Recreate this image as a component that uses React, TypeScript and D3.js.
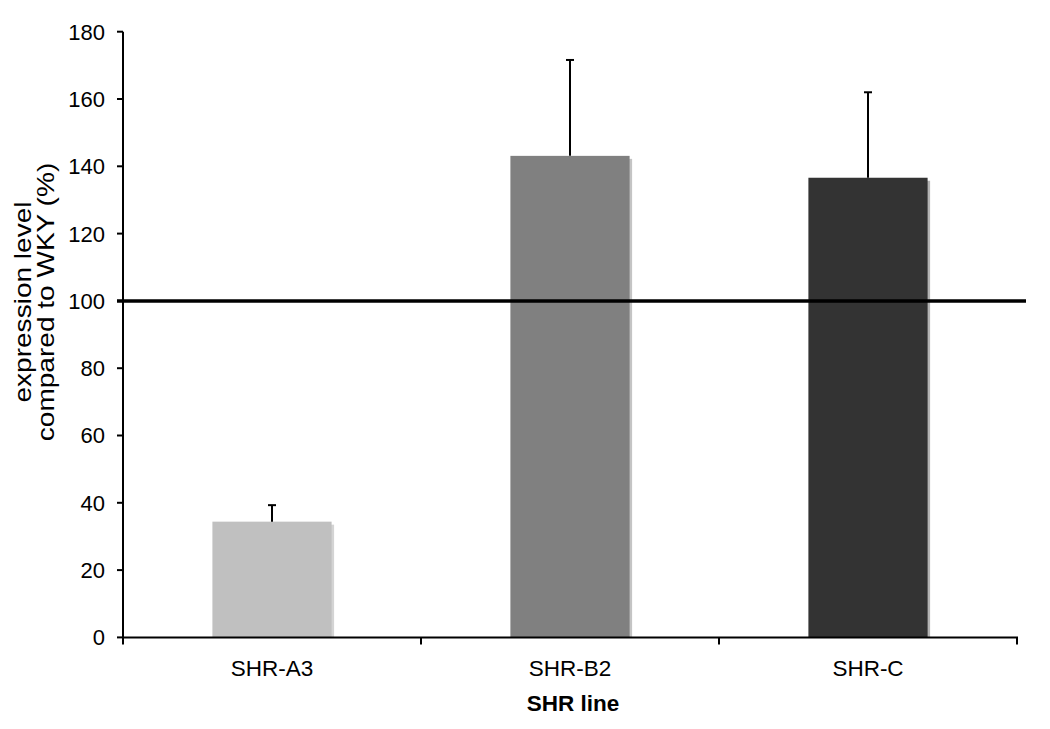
import React from "react";
import * as d3 from "d3";

const categories = ["SHR-A3", "SHR-B2", "SHR-C"];
const values = [34.4, 143.1, 136.6];
const errors = [4.9, 28.5, 25.4];
const barColors = ["#c0c0c0", "#808080", "#333333"];
const shadowColors = ["#d4d4d4", "#c4c4c4", "#b4b4b4"];
const yTicks = [0, 20, 40, 60, 80, 100, 120, 140, 160, 180];
const referenceValue = 100;
const yLabelLines = ["expression level", "compared to WKY (%)"];
const xTitle = "SHR line";

const W = 1050;
const H = 729;
const left = 123;
const right = 1017;
const top = 31.7;
const bottom = 637.4;

export default function App() {
  const y = d3.scaleLinear().domain([0, 180]).range([bottom, top]);
  const x = d3
    .scaleBand<string>()
    .domain(categories)
    .range([left, right])
    .paddingInner(0.6)
    .paddingOuter(0.3);
  const step = x.step();
  const font = "Arial, 'Liberation Sans', sans-serif";
  const boundaries = d3.range(categories.length + 1).map((i) => left + i * step);

  return (
    <svg
      width={W}
      height={H}
      style={{ position: "absolute", left: 0, top: 0, background: "#fff" }}
      fontFamily={font}
    >
      {categories.map((c, i) => {
        const bx = x(c)!;
        const bw = x.bandwidth();
        const by = y(values[i]);
        return (
          <g key={c}>
            <rect x={bx + 2.5} y={by + 3} width={bw} height={bottom - by - 3} fill={shadowColors[i]} />
            <rect x={bx} y={by} width={bw} height={bottom - by} fill={barColors[i]} />
          </g>
        );
      })}
      {categories.map((c, i) => {
        const cx = x(c)! + x.bandwidth() / 2;
        const y0 = y(values[i]);
        const y1 = y(values[i] + errors[i]);
        return (
          <g key={"e" + c} stroke="#000" strokeWidth={2}>
            <line x1={cx} x2={cx} y1={y0} y2={y1} />
            <line x1={cx - 4} x2={cx + 4} y1={y1} y2={y1} />
          </g>
        );
      })}
      <line x1={left} x2={left} y1={top} y2={bottom} stroke="#000" strokeWidth={2} />
      {yTicks.map((t) => (
        <g key={t}>
          <line x1={left - 6} x2={left} y1={y(t)} y2={y(t)} stroke="#000" strokeWidth={2} />
          <text x={105} y={y(t)} dy="0.36em" textAnchor="end" fontSize={22} fill="#000">
            {t}
          </text>
        </g>
      ))}
      <line x1={left - 1} x2={right + 1} y1={bottom} y2={bottom} stroke="#000" strokeWidth={2} />
      {boundaries.map((b, i) => (
        <line key={i} x1={b} x2={b} y1={bottom} y2={bottom + 7} stroke="#000" strokeWidth={2} />
      ))}
      {categories.map((c) => (
        <text
          key={"l" + c}
          x={x(c)! + x.bandwidth() / 2}
          y={676}
          textAnchor="middle"
          fontSize={22.5}
          fill="#000"
        >
          {c}
        </text>
      ))}
      <text x={(left + right) / 2 + 3} y={711} textAnchor="middle" fontSize={22.5} fontWeight="bold" fill="#000">
        {xTitle}
      </text>
      <line
        x1={left - 6}
        x2={1026}
        y1={y(referenceValue)}
        y2={y(referenceValue)}
        stroke="#000"
        strokeWidth={3.5}
      />
      <g transform={`translate(0, 302) rotate(-90) scale(1.22, 1)`}>
        {yLabelLines.map((l, i) => (
          <text key={l} x={0} y={31 + i * 23} textAnchor="middle" fontSize={23} fill="#000">
            {l}
          </text>
        ))}
      </g>
    </svg>
  );
}
